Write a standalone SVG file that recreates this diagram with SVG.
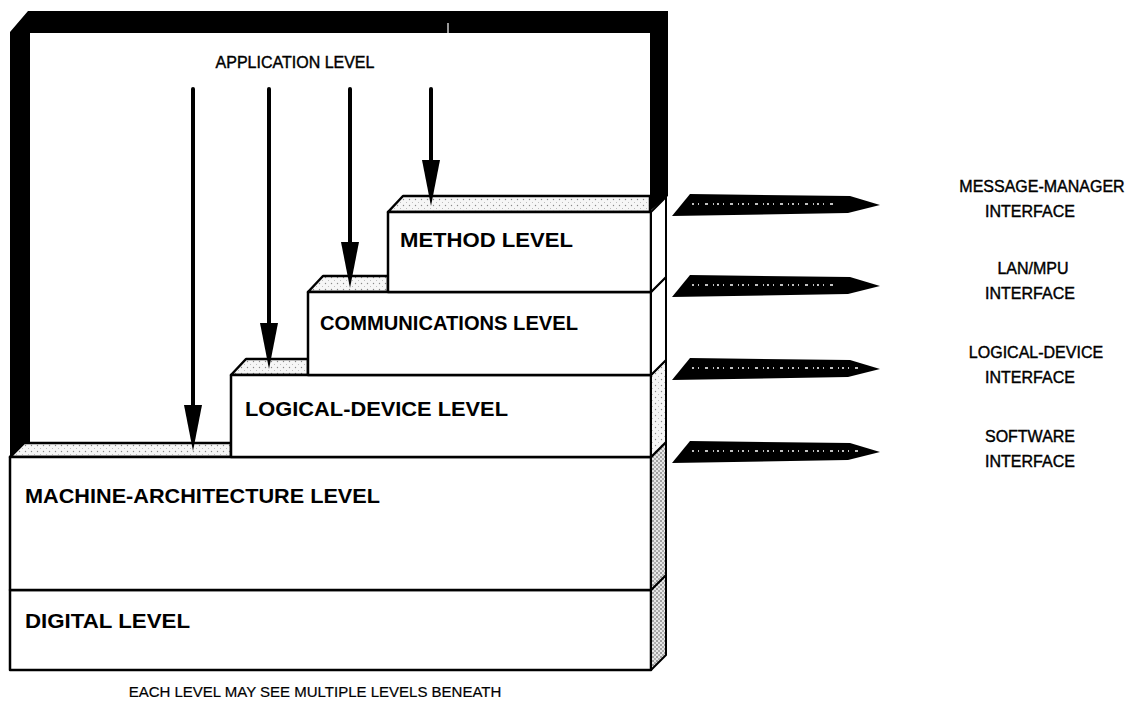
<svg xmlns="http://www.w3.org/2000/svg" width="1137" height="704" viewBox="0 0 1137 704">
<style>
.box{fill:#fff;stroke:#000;stroke-width:2.5;stroke-linejoin:round}
.ledge{fill:url(#dots);stroke:#000;stroke-width:2.5;stroke-linejoin:round}
.side{stroke:#000;stroke-width:2;stroke-linejoin:round}
.lvl{font-family:"Liberation Sans",Arial,sans-serif;font-weight:bold;font-size:21px;fill:#000}
.lbl{font-family:"Liberation Sans",Arial,sans-serif;font-size:16px;fill:#000;stroke:#000;stroke-width:0.4;text-anchor:middle}
.arr{stroke:#000;stroke-width:4;stroke-linecap:round;fill:none}
.pen{fill:#000}
.pdots{stroke:#fff;stroke-width:1.3;stroke-dasharray:2 4 1 6 3 5 1 3;fill:none}
</style>
<defs>
<pattern id="dots" width="6" height="6" patternUnits="userSpaceOnUse">
<rect width="6" height="6" fill="#f6f6f6"/>
<circle cx="1.5" cy="1.5" r="0.7" fill="#888"/>
<circle cx="4.5" cy="4.5" r="0.5" fill="#aaa"/>
</pattern>
<pattern id="dense" width="4" height="4" patternUnits="userSpaceOnUse">
<rect width="4" height="4" fill="#e6e6e6"/>
<circle cx="1" cy="1" r="0.8" fill="#444"/>
<circle cx="3" cy="3" r="0.8" fill="#666"/>
</pattern>
</defs>
<rect width="1137" height="704" fill="#fff"/>

<g id="application-level">
<path fill="#000" fill-rule="evenodd" d="M10,457 L10,32 L28,11 L668,11 L668,196 L650,211 L650,443 L24,443 Z M30,33 H650 V443 H30 Z"/>
<line x1="448" y1="23" x2="448" y2="33" stroke="#fff" stroke-width="1.2"/>
<text class="lbl" x="295" y="68">APPLICATION LEVEL</text>
</g>

<g id="digital-level">
<rect class="box" x="10" y="590" width="641" height="80"/>
<polygon class="side" fill="url(#dense)" points="651,590 666,575 666,655 651,670"/>
<text class="lvl" x="25" y="628" textLength="165" lengthAdjust="spacingAndGlyphs">DIGITAL LEVEL</text>
</g>

<g id="machine-architecture-level">
<polygon class="ledge" points="10,457 24,443 231,443 231,457"/>
<rect class="box" x="10" y="457" width="641" height="133"/>
<polygon class="side" fill="url(#dense)" points="651,457 666,442 666,575 651,590"/>
<text class="lvl" x="25" y="503" textLength="355" lengthAdjust="spacingAndGlyphs">MACHINE-ARCHITECTURE LEVEL</text>
</g>

<g id="logical-device-level">
<polygon class="ledge" points="231,375 246,359 308,359 308,375"/>
<rect class="box" x="231" y="375" width="420" height="82"/>
<polygon class="side" fill="url(#dots)" points="651,375 666,360 666,442 651,457"/>
<text class="lvl" x="245" y="416" textLength="263" lengthAdjust="spacingAndGlyphs">LOGICAL-DEVICE LEVEL</text>
</g>

<g id="communications-level">
<polygon class="ledge" points="308,292 323,276 388,276 388,292"/>
<rect class="box" x="308" y="292" width="343" height="83"/>
<polygon class="side" fill="#fff" points="651,292 666,277 666,360 651,375"/>
<text class="lvl" x="320" y="330" textLength="258" lengthAdjust="spacingAndGlyphs">COMMUNICATIONS LEVEL</text>
</g>

<g id="method-level">
<polygon class="ledge" points="388,212 403,196 650,196 650,212"/>
<rect class="box" x="388" y="212" width="263" height="80"/>
<polygon class="side" fill="#fff" points="651,212 666,197 666,277 651,292"/>
<text class="lvl" x="400" y="247" textLength="173" lengthAdjust="spacingAndGlyphs">METHOD LEVEL</text>
</g>

<g id="connectors">
<line class="arr" x1="193" y1="89" x2="193" y2="408"/>
<polygon points="184,405 202,405 193,451" fill="#000"/>
<line class="arr" x1="269" y1="89" x2="269" y2="326"/>
<polygon points="260,323 278,323 269,369" fill="#000"/>
<line class="arr" x1="350" y1="89" x2="350" y2="245"/>
<polygon points="341,242 359,242 350,288" fill="#000"/>
<line class="arr" x1="431" y1="89" x2="431" y2="163"/>
<polygon points="422,160 440,160 431,206" fill="#000"/>
</g>

<g id="message-manager-interface">
<path class="pen" d="M672,216 L690,194 L850,196 L880,205 L848,213 Z"/>
<path class="pdots" d="M692,204 L835,204"/>
<text class="lbl" x="1042" y="192">MESSAGE-MANAGER</text>
<text class="lbl" x="1030" y="217">INTERFACE</text>
</g>
<g id="lan-mpu-interface">
<path class="pen" d="M672,297 L690,275 L850,277 L880,286 L848,294 Z"/>
<path class="pdots" d="M692,285 L835,285"/>
<text class="lbl" x="1033" y="274">LAN/MPU</text>
<text class="lbl" x="1030" y="299">INTERFACE</text>
</g>
<g id="logical-device-interface">
<path class="pen" d="M672,380 L690,358 L850,360 L880,369 L848,377 Z"/>
<path class="pdots" d="M692,368 L858,368"/>
<text class="lbl" x="1036" y="358">LOGICAL-DEVICE</text>
<text class="lbl" x="1030" y="383">INTERFACE</text>
</g>
<g id="software-interface">
<path class="pen" d="M672,463 L690,441 L850,443 L880,452 L848,460 Z"/>
<path class="pdots" d="M692,451 L858,451"/>
<text class="lbl" x="1030" y="442">SOFTWARE</text>
<text class="lbl" x="1030" y="467">INTERFACE</text>
</g>

<text class="lbl" x="315" y="697" style="font-size:15px;stroke-width:0.2">EACH LEVEL MAY SEE MULTIPLE LEVELS BENEATH</text>
</svg>
